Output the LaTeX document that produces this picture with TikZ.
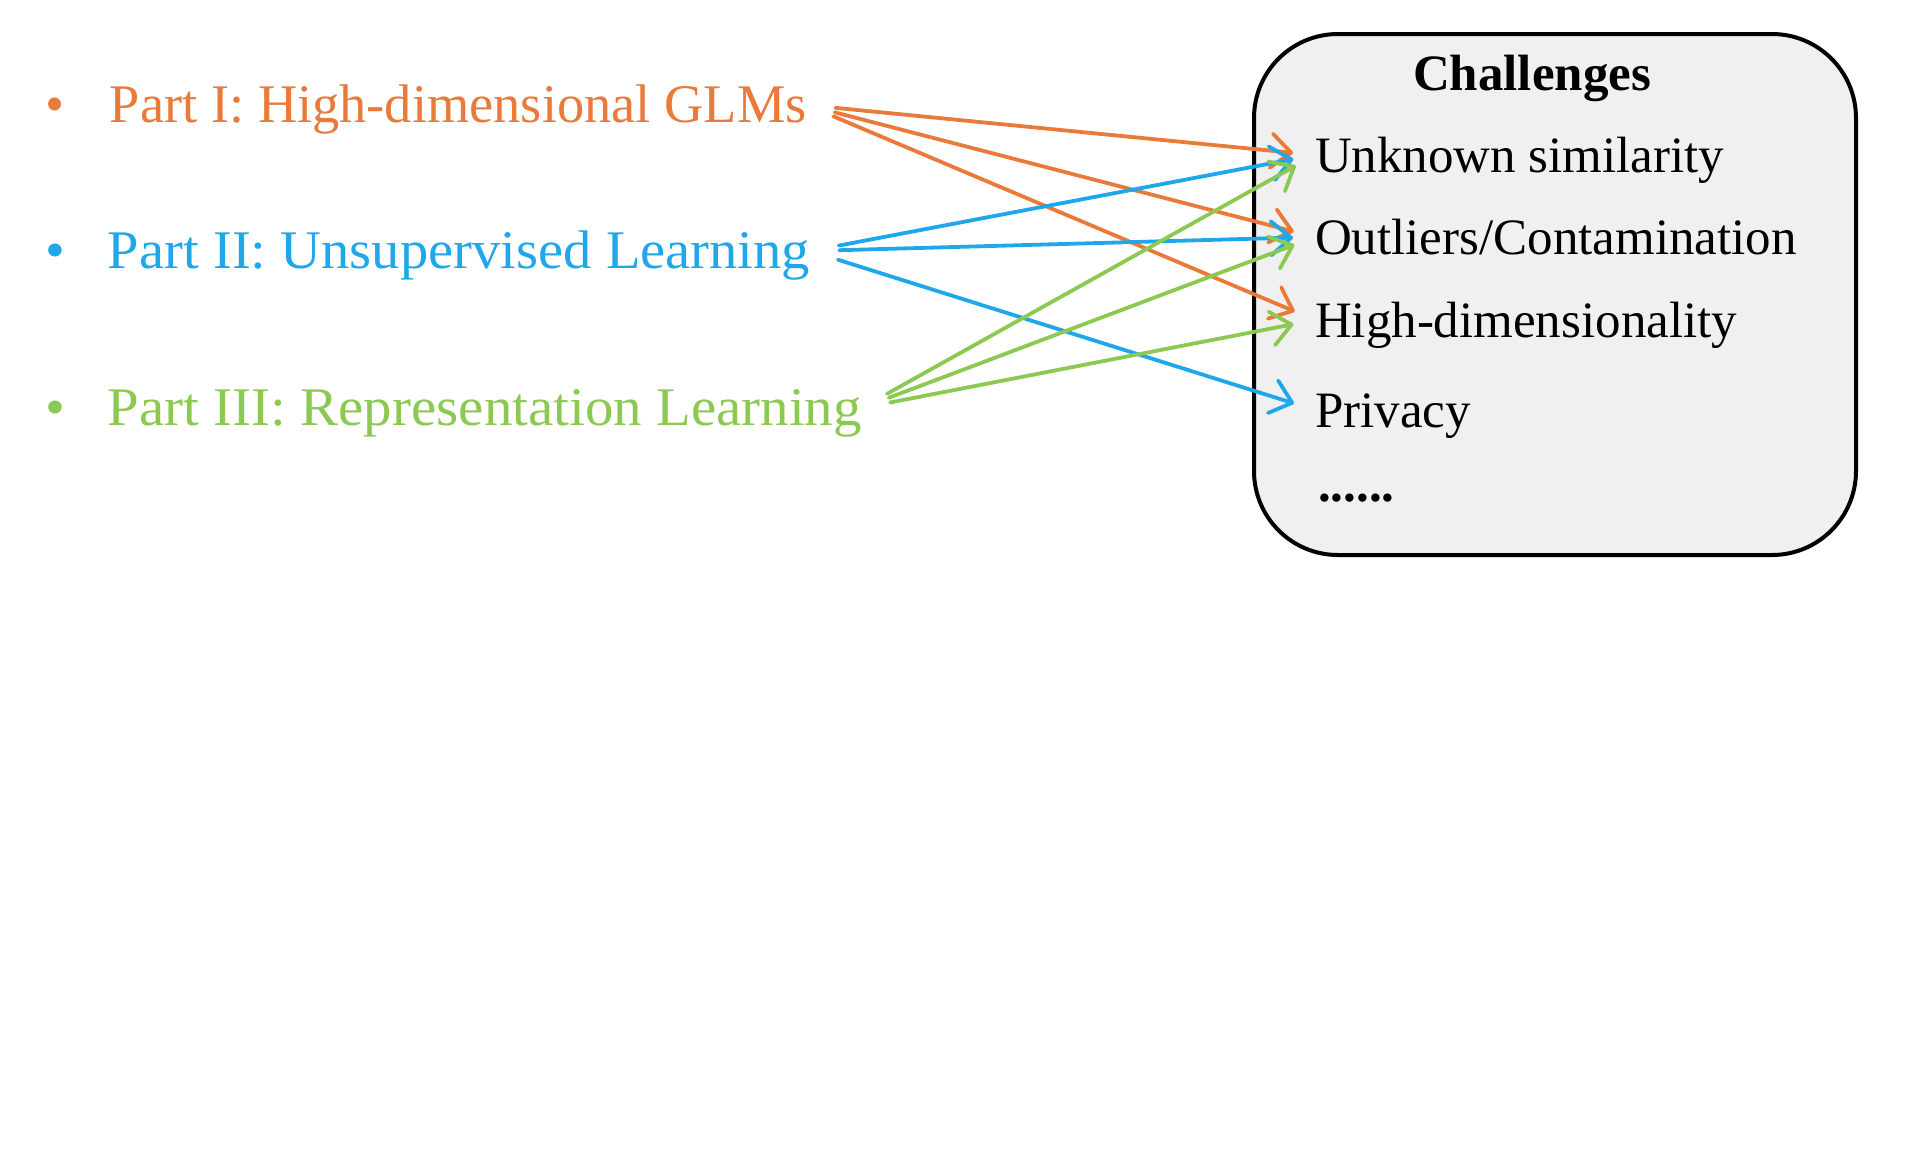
\documentclass[tikz,border=0pt]{standalone}
\usepackage{fontspec}
\setmainfont{Liberation Serif}
\usetikzlibrary{arrows.meta}
\definecolor{partone}{HTML}{E97A3A}
\definecolor{parttwo}{HTML}{1FA7E9}
\definecolor{partthree}{HTML}{8CC952}
\definecolor{boxgray}{HTML}{F0F0F0}
\newcommand*\partfont{\fontsize{27.2pt}{30pt}\selectfont}
\newcommand*\challfont{\fontsize{25.5pt}{28pt}\selectfont}
\tikzset{
    part/.style      = {anchor=west, inner sep=0pt, outer sep=0pt,
                        text height=20pt, text depth=3pt, font=\partfont},
    firstpart/.style = {part, text=partone},
    secondpart/.style= {part, text=parttwo,
                        font=\partfont\addfontfeature{FakeStretch=1.04}},
    thirdpart/.style = {part, text=partthree,
                        font=\partfont\addfontfeature{FakeStretch=1.046}},
    challenge/.style = {anchor=west, inner sep=0pt, outer sep=0pt,
                        text height=19pt, text depth=2pt, font=\challfont},
    challbox/.style  = {draw, fill=boxgray, line width=2pt, rounded corners=42pt,
                        minimum width=301pt, minimum height=260.5pt, inner sep=0pt},
    link/.style      = {line width=1.9pt, line cap=round,
                        -{Straight Barb[length=10pt,width=17pt,round]},
                        shorten <=14.5pt, shorten >=11pt},
}
\begin{document}
\begin{tikzpicture}[x=0.5pt,y=-0.5pt]
  \useasboundingbox (0,0) rectangle (1908,1148);

  % Challenges box on the right
  \node[challbox] (box) at (1555,294.5) {};
  \node[font=\challfont\bfseries, anchor=base, inner sep=0pt] (title) at (1532,90) {Challenges};
  \node[challenge] (c1) at (1315,155) {Unknown similarity};
  \node[challenge] (c2) at (1315,237) {Outliers/Contamination};
  \node[challenge] (c3) at (1315,320) {High-dimensionality};
  \node[challenge] (c4) at (1315,410) {Privacy};
  \node[challenge, font=\challfont\bfseries] (c5) at (1318,484) {......};

  % the three parts on the left
  \node[firstpart]  (p1) at (46,105) {\makebox[32pt][l]{\textbullet}Part I: High-dimensional GLMs};
  \node[secondpart] (p2) at (46,251) {\makebox[31pt][l]{\textbullet}Part II: Unsupervised Learning};
  \node[thirdpart]  (p3) at (46,408) {\makebox[31pt][l]{\textbullet}Part III: Representation Learning};

  % which part meets which challenge
  \foreach \s/\t/\c in {p1/c1/partone, p1/c2/partone, p1/c3/partone,
                        p2/c1/parttwo, p2/c2/parttwo, p2/c4/parttwo,
                        p3/c1/partthree, p3/c2/partthree, p3/c3/partthree} {
    \draw[link, \c] (\s.east) -- (\t.west);
  }
\end{tikzpicture}
\end{document}
